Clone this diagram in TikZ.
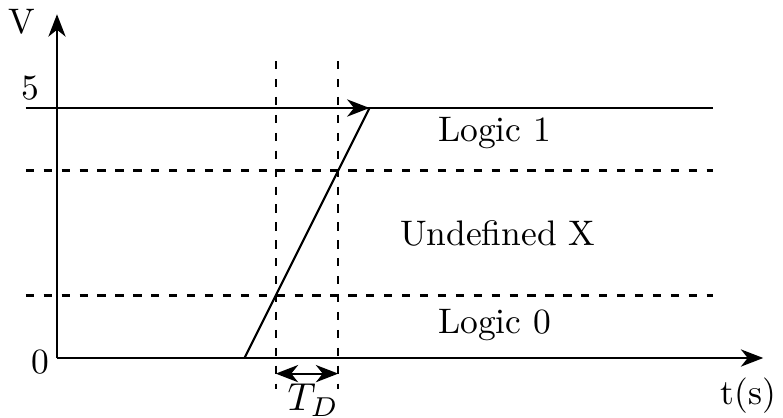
\documentclass[tikz,border=0pt]{standalone}
\usetikzlibrary{arrows.meta}
\begin{document}
\begin{tikzpicture}[x=0.6375cm,y=0.6375cm,>={Stealth[length=6.5pt,width=5pt,inset=2pt]},
  line width=0.6pt, dashed/.style={dash pattern=on 2.4pt off 2.8pt},
  every node/.style={scale=1.03}]
\useasboundingbox (-0.912,-0.944) rectangle (11.616,5.728);
% Axes
\coordinate (O) at (0,0);
\coordinate (ytop) at (0,5.5);
\coordinate (xend) at (11.3,0);
\draw[->] (O) -- (ytop);
\draw[->] (O) -- (xend);
\node (vlab) at (-0.56,5.38) {V};
\node (tlab) at (11.06,-0.6) {t(s)};
\node (zero) at (-0.27,-0.06) {0};
\node (five) at (-0.43,4.32) {5};

% Logic levels
\coordinate (hiL) at (-0.5,4);
\coordinate (hiR) at (10.5,4);
\draw (hiL) -- (hiR);
\draw[dashed] (-0.5,3) coordinate (upL) -- (10.5,3) coordinate (upR);
\draw[dashed] (-0.5,1) coordinate (loL) -- (10.5,1) coordinate (loR);

% Transition ramp
\coordinate (rs) at (3,0);
\coordinate (re) at (5,4);
\draw (rs) -- (re);
\draw[->] (hiL) -- (re);

% Delay markers
\draw[dashed] (3.5,4.75) coordinate (d1t) -- (3.5,-0.5) coordinate (d1b);
\draw[dashed] (4.5,4.75) coordinate (d2t) -- (4.5,-0.5) coordinate (d2b);
\coordinate (ta) at (3.5,-0.25);
\coordinate (tb) at (4.5,-0.25);
\draw[<->] (ta) -- (tb);
\node[scale=1.1] (td) at (4.1,-0.68) {$T_D$};

% Label the regions
\node (l1) at (7,3.6) {Logic 1};
\node (lx) at (7.05,2) {Undefined X};
\node (l0) at (7,0.53) {Logic 0};
\end{tikzpicture}
\end{document}
